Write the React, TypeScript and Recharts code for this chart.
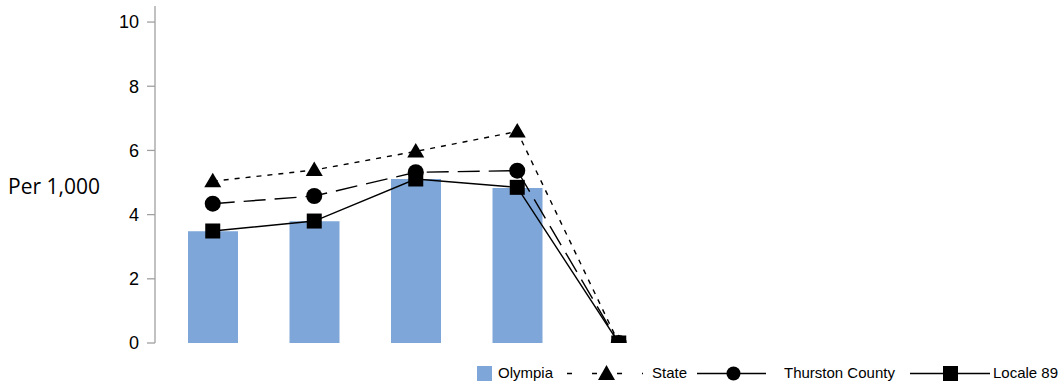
import React from 'react';
import { ComposedChart, Bar, Line, XAxis, YAxis, Legend } from 'recharts';

const categories = ['A', 'B', 'C', 'D', 'E'];
const olympia = [3.48, 3.79, 5.11, 4.83, 0];
const state = [5.04, 5.39, 5.97, 6.59, 0];
const thurston = [4.34, 4.58, 5.32, 5.37, 0];
const locale89 = [3.49, 3.8, 5.11, 4.85, 0];
const yTicks = [0, 2, 4, 6, 8, 10];

const data = categories.map((c, i) => ({
  cat: c,
  Olympia: olympia[i],
  State: state[i],
  Thurston: thurston[i],
  Locale: locale89[i],
}));

const BAR_COLOR = '#7EA6D8';

const Triangle = (props: any) => {
  const { cx, cy, index } = props;
  if (cx == null || cy == null) return <g key={'t' + index} />;
  return <path key={'t' + index} d={`M${cx},${cy - 8.5} L${cx + 8.5},${cy + 6} L${cx - 8.5},${cy + 6} Z`} fill="#000" />;
};
const Circle = (props: any) => {
  const { cx, cy, index } = props;
  if (cx == null || cy == null) return <g key={'c' + index} />;
  return <circle key={'c' + index} cx={cx} cy={cy} r={8} fill="#000" />;
};
const Square = (props: any) => {
  const { cx, cy, index } = props;
  if (cx == null || cy == null) return <g key={'s' + index} />;
  return <rect key={'s' + index} x={cx - 7.5} y={cy - 7.5} width={15} height={15} fill="#000" />;
};

const legendFont: React.CSSProperties = {
  position: 'absolute',
  top: 4,
  fontFamily: '"Liberation Sans", Arial, sans-serif',
  fontSize: 15,
  lineHeight: '18px',
  color: '#000',
  whiteSpace: 'nowrap',
};

const LegendContent = () => (
  <div style={{ position: 'relative', width: 1063, height: 26 }}>
    <svg width={1063} height={26} style={{ position: 'absolute', left: 0, top: 0 }}>
      <rect x={477} y={6} width={15} height={15} fill={BAR_COLOR} />
      <line x1={567} y1={13.5} x2={643} y2={13.5} stroke="#000" strokeWidth={1.3} strokeDasharray="5 20" />
      <path d="M606.5,5 L615,20 L598,20 Z" fill="#000" />
      <line x1={697} y1={13.5} x2={766} y2={13.5} stroke="#000" strokeWidth={1.3} />
      <circle cx={733.5} cy={13.5} r={7} fill="#000" />
      <line x1={910} y1={13.5} x2={990} y2={13.5} stroke="#000" strokeWidth={1.3} />
      <rect x={943} y={6} width={15} height={15} fill="#000" />
    </svg>
    <span style={{ ...legendFont, left: 498 }}>Olympia</span>
    <span style={{ ...legendFont, left: 652 }}>State</span>
    <span style={{ ...legendFont, left: 784 }}>Thurston County</span>
    <span style={{ ...legendFont, left: 993 }}>Locale 89</span>
  </div>
);

export default function App() {
  return (
    <div style={{ position: 'absolute', left: 0, top: 0, width: 1063, height: 386, background: '#fff' }}>
      <ComposedChart
        width={1063}
        height={386}
        data={data}
        margin={{ top: 6, right: 393.5, bottom: 17, left: 0 }}
      >
        <XAxis dataKey="cat" hide padding={{ left: 7, right: 0 }} />
        <YAxis
          width={155}
          domain={[0, 10.5]}
          ticks={yTicks}
          allowDataOverflow
          axisLine={{ stroke: '#A0A0A0', strokeWidth: 1.3 }}
          tickLine={{ stroke: '#A0A0A0', strokeWidth: 1.3 }}
          tickSize={8}
          tickMargin={8}
          tick={{ fill: '#000', fontSize: 18, fontFamily: '"Liberation Sans", Arial, sans-serif' }}
          label={{
            value: 'Per 1,000',
            position: 'insideLeft',
            offset: 8,
            dy: 12,
            style: { fill: '#000', fontSize: 21, fontFamily: '"Open Sans", sans-serif', textAnchor: 'start' },
          }}
        />
        <Bar dataKey="Olympia" fill={BAR_COLOR} barSize={50} isAnimationActive={false} />
        <Line
          dataKey="State"
          stroke="#000"
          strokeWidth={1.4}
          strokeDasharray="5 6"
          dot={Triangle}
          activeDot={false}
          isAnimationActive={false}
        />
        <Line
          dataKey="Thurston"
          stroke="#000"
          strokeWidth={1.4}
          strokeDasharray="22 9"
          dot={Circle}
          activeDot={false}
          isAnimationActive={false}
        />
        <Line
          dataKey="Locale"
          stroke="#000"
          strokeWidth={1.4}
          dot={Square}
          activeDot={false}
          isAnimationActive={false}
        />
        <Legend
          content={<LegendContent />}
          wrapperStyle={{ position: 'absolute', left: 0, top: 360, width: 1063, height: 26 }}
        />
      </ComposedChart>
    </div>
  );
}
